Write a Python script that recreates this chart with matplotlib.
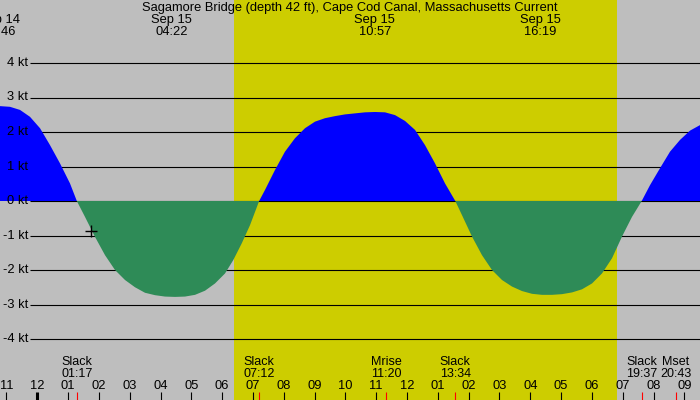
import matplotlib
matplotlib.use("Agg")
import matplotlib.pyplot as plt
import numpy as np

# ---- data (hours since midnight Sep 15, current speed in knots) ----
hours = [-1.211, -0.886, -0.561, -0.237, 0.088, 0.412, 0.737, 1.061, 1.283,
         1.548, 1.873, 2.198, 2.522, 2.847, 3.171, 3.496, 3.821, 4.145, 4.470,
         4.794, 5.119, 5.444, 5.768, 6.093, 6.362, 6.634, 6.904, 7.200,
         7.390, 7.715, 8.039, 8.364, 8.689, 9.013, 9.338, 9.662, 9.987, 10.312,
         10.636, 10.961, 11.286, 11.610, 11.935, 12.260, 12.584, 12.909, 13.233, 13.567,
         13.784, 14.109, 14.433, 14.758, 15.083, 15.407, 15.732, 16.056, 16.381,
         16.705, 17.030, 17.355, 17.679, 18.004, 18.328, 18.653, 18.978, 19.302, 19.617,
         19.887, 20.211, 20.536, 20.860, 21.185, 21.509]
speed = [2.75, 2.73, 2.64, 2.44, 2.11, 1.62, 1.09, 0.51, 0.0,
         -0.46, -1.04, -1.57, -2.00, -2.29, -2.50, -2.66, -2.73, -2.77, -2.78,
         -2.77, -2.72, -2.60, -2.39, -2.10, -1.71, -1.23, -0.70, 0.0,
         0.32, 0.90, 1.43, 1.82, 2.11, 2.30, 2.40, 2.46, 2.51, 2.54,
         2.57, 2.58, 2.57, 2.49, 2.32, 2.06, 1.62, 1.09, 0.51, 0.0,
         -0.41, -1.03, -1.57, -2.00, -2.29, -2.48, -2.61, -2.69, -2.72,
         -2.72, -2.70, -2.65, -2.56, -2.39, -2.10, -1.66, -1.03, -0.46, 0.0,
         0.46, 0.95, 1.43, 1.77, 2.04, 2.20]

title = "Sagamore Bridge (depth 42 ft), Cape Cod Canal, Massachusetts Current"
top_times = [-1.233, 4.367, 10.950, 16.317]
top_dates = ["Sep 14", "Sep 15", "Sep 15", "Sep 15"]
top_labels = ["22:46", "04:22", "10:57", "16:19"]

bot_times = [1.283, 7.200, 11.333, 13.567, 19.617, 20.717]
bot_names = ["Slack", "Slack", "Mrise", "Slack", "Slack", "Mset"]
bot_labels = ["01:17", "07:12", "11:20", "13:34", "19:37", "20:43"]

sunrise, sunset = 6.384, 18.815
hour_ticks = list(range(-1, 22))
hour_labels = ["11", "12", "01", "02", "03", "04", "05", "06", "07", "08", "09", "10",
               "11", "12", "01", "02", "03", "04", "05", "06", "07", "08", "09"]
kt_levels = [4, 3, 2, 1, 0, -1, -2, -3, -4]
now_time, now_speed = 1.743, -0.87

GRAY = "#bebebe"
YELLOW = "#cdcd00"
BLUE = "#0000ff"
GREEN = "#2e8b57"

plt.rcParams['font.family'] = ['Liberation Sans', 'DejaVu Sans']
FS_T = 9.3
FS = 9.0

fig = plt.figure(figsize=(7, 4), dpi=100)
fig.patch.set_facecolor(GRAY)
ax = fig.add_axes([0, 0, 1, 1])
ax.set_facecolor(GRAY)
ax.set_xlim(-1.2107, 21.509)
ax.set_ylim(-199 / 34.5, 201 / 34.5)
ax.axis('off')

ax.axvspan(sunrise, sunset, color=YELLOW, zorder=0, lw=0)

# grid lines
x_start = (30 - 37.3) / 30.81
ax.hlines(kt_levels, x_start, 21.6, colors='black', lw=0.8, zorder=1)

h = np.array(hours)
s = np.array(speed)
ax.fill_between(h, 0, s, where=s >= 0, color=BLUE, lw=0, zorder=2, interpolate=True)
ax.fill_between(h, 0, s, where=s <= 0, color=GREEN, lw=0, zorder=2, interpolate=True)

ax.plot([now_time], [now_speed], marker='+', color='black', ms=9, mew=1, zorder=4)

# y labels
for k in kt_levels:
    ax.text(-1.2107 + 28 / 30.81, k, f"{k} kt", ha='right', va='center', fontsize=FS_T, zorder=3)

tr = ax.get_xaxis_transform()

def py(p):
    return 1 - p / 400.0

ax.text(0.5, py(8), title, transform=ax.transAxes, ha='center', va='center', fontsize=FS_T)
for t, d, l in zip(top_times, top_dates, top_labels):
    ax.text(t, py(20), d, transform=tr, ha='center', va='center', fontsize=FS_T)
    ax.text(t, py(32), l, transform=tr, ha='center', va='center', fontsize=FS_T)

for t, n, l in zip(bot_times, bot_names, bot_labels):
    ax.text(t, py(362), n, transform=tr, ha='center', va='center', fontsize=FS)
    ax.text(t, py(374), l, transform=tr, ha='center', va='center', fontsize=FS)

for t, l in zip(hour_ticks, hour_labels):
    ax.text(t, py(386), l, transform=tr, ha='center', va='center', fontsize=FS_T)
    lw = 2.2 if t == 0 else 0.8
    ax.vlines(t, 0, py(392), transform=tr, colors='black', lw=lw, zorder=3)

ax.vlines(bot_times, 0, py(392), transform=tr, colors='red', lw=0.8, zorder=3)

fig.savefig("out.png", dpi=100, facecolor=GRAY)
